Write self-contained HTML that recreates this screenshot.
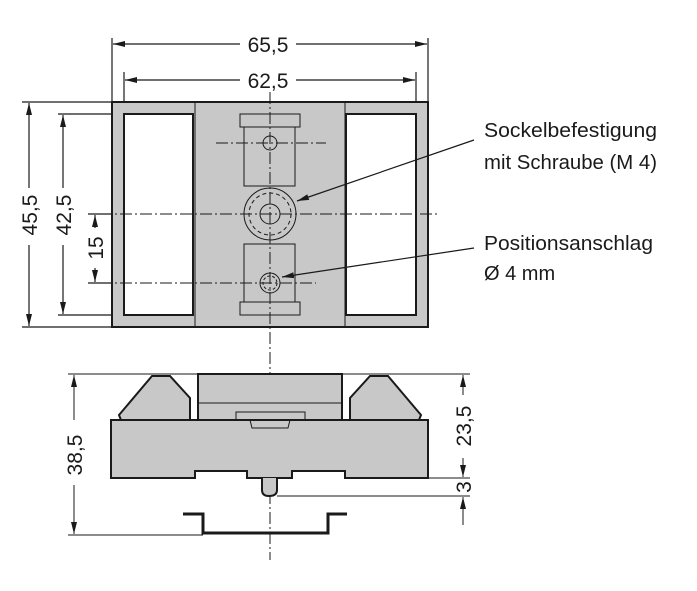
<!DOCTYPE html>
<html><head><meta charset="utf-8"><style>
html,body{margin:0;padding:0;background:#fff;}
svg{display:block;}
text{font-family:"Liberation Sans",sans-serif;fill:#1a1a1a;}
</style></head><body>
<svg width="697" height="591" viewBox="0 0 697 591" xmlns="http://www.w3.org/2000/svg">
<defs>
<marker id="a" viewBox="0 0 12 6" refX="12" refY="3" markerWidth="12" markerHeight="6" orient="auto-start-reverse" markerUnits="userSpaceOnUse"><path d="M0,0 L12,3 L0,6 z" fill="#1a1a1a"/></marker>
</defs>
<g stroke="#1a1a1a" fill="none" stroke-width="1.2">
<line x1="112" y1="38" x2="112" y2="102"/><line x1="428" y1="38" x2="428" y2="102"/>
<line x1="124" y1="72" x2="124" y2="114"/><line x1="416" y1="72" x2="416" y2="114"/>
<line x1="113" y1="44" x2="240" y2="44" marker-start="url(#a)"/><line x1="296" y1="44" x2="427" y2="44" marker-end="url(#a)"/>
<line x1="125" y1="80" x2="240" y2="80" marker-start="url(#a)"/><line x1="296" y1="80" x2="415" y2="80" marker-end="url(#a)"/>
<line x1="22" y1="102" x2="112" y2="102"/><line x1="22" y1="327" x2="112" y2="327"/>
<line x1="58" y1="114" x2="124" y2="114"/><line x1="58" y1="315" x2="124" y2="315"/>
<line x1="88" y1="214" x2="112" y2="214"/><line x1="88" y1="283" x2="112" y2="283"/>
<line x1="29" y1="103" x2="29" y2="188" marker-start="url(#a)"/><line x1="29" y1="245" x2="29" y2="326" marker-end="url(#a)"/>
<line x1="63" y1="115" x2="63" y2="188" marker-start="url(#a)"/><line x1="63" y1="245" x2="63" y2="314" marker-end="url(#a)"/>
<line x1="95" y1="215" x2="95" y2="228" marker-start="url(#a)"/><line x1="95" y1="268" x2="95" y2="282" marker-end="url(#a)"/>
</g>
<rect x="112" y="102" width="316" height="225" fill="#c8c8c8" stroke="#1a1a1a" stroke-width="2"/>
<g stroke="#1a1a1a" stroke-width="1" fill="none">
<line x1="195" y1="102" x2="195" y2="327"/><line x1="345" y1="102" x2="345" y2="327"/>
</g>
<rect x="124" y="114" width="69" height="201" fill="#fff" stroke="#1a1a1a" stroke-width="2"/>
<rect x="346" y="114" width="70" height="201" fill="#fff" stroke="#1a1a1a" stroke-width="2"/>
<g stroke="#1a1a1a" stroke-width="1" fill="none">
<rect x="240" y="114" width="60" height="13"/><rect x="244" y="127" width="51" height="59"/>
<rect x="244" y="244" width="51" height="58"/><rect x="240" y="302" width="60" height="13"/>
<circle cx="270" cy="143" r="7"/>
<circle cx="270" cy="214" r="26"/><circle cx="270" cy="214" r="21" stroke-dasharray="4,3"/><circle cx="270" cy="214" r="10"/>
<circle cx="270" cy="283" r="10"/><circle cx="270" cy="283" r="7" stroke-dasharray="3,2"/>
<g stroke-dasharray="12,3,2,3">
<line x1="270" y1="92" x2="270" y2="560"/>
<line x1="100" y1="214" x2="440" y2="214"/>
<line x1="100" y1="283" x2="316" y2="283"/>
<line x1="216" y1="143" x2="326" y2="143"/>
</g>
<line x1="474" y1="140" x2="297" y2="201" marker-end="url(#a)" stroke-width="1.2"/>
<line x1="474" y1="248" x2="282" y2="277" marker-end="url(#a)" stroke-width="1.2"/>
</g>
<g stroke="#1a1a1a" stroke-width="2" fill="#c8c8c8">
<path d="M198,374 H342 V420 H198 Z"/>
<path d="M119,415 L152,376 H170 L190,398 V420 H121 Z"/>
<path d="M421,415 L388,376 H370 L350,398 V420 H419 Z"/>
<path d="M111,420 H428 V478 H345 V471 H292 V478 H247 V471 H195 V478 H111 Z"/>
<path d="M262,478 V490 Q262,496 269,496 Q277,496 277,490 V478" />
<path d="M183,514 H203 V533 H328 V514 H347" fill="none" stroke-width="3"/>
</g>
<g stroke="#1a1a1a" stroke-width="1" fill="none">
<line x1="198" y1="403" x2="342" y2="403"/>
<path d="M236,420 V412 H305 V420"/><path d="M250,420 L252,428 H288 L290,420"/>
<line x1="68" y1="374" x2="470" y2="374"/>
<line x1="68" y1="535" x2="203" y2="535"/>
<line x1="428" y1="478" x2="470" y2="478"/>
<line x1="277" y1="496" x2="470" y2="496"/>
<line x1="74" y1="375" x2="74" y2="420" marker-start="url(#a)"/><line x1="74" y1="485" x2="74" y2="534" marker-end="url(#a)"/>
<line x1="463" y1="375" x2="463" y2="395" marker-start="url(#a)"/><line x1="463" y1="458" x2="463" y2="477" marker-end="url(#a)"/>
<line x1="463" y1="525" x2="463" y2="497" marker-end="url(#a)"/>
</g>
<g font-size="21">
<text x="268" y="52" text-anchor="middle">65,5</text>
<text x="268" y="88" text-anchor="middle">62,5</text>
<text transform="translate(37,215) rotate(-90)" text-anchor="middle">45,5</text>
<text transform="translate(71,215) rotate(-90)" text-anchor="middle">42,5</text>
<text transform="translate(103,248) rotate(-90)" text-anchor="middle">15</text>
<text transform="translate(82,455) rotate(-90)" text-anchor="middle">38,5</text>
<text transform="translate(471,426) rotate(-90)" text-anchor="middle">23,5</text>
<text transform="translate(471,487) rotate(-90)" text-anchor="middle">3</text>
</g>
<g font-size="20">
<text x="484" y="137" textLength="173" lengthAdjust="spacingAndGlyphs">Sockelbefestigung</text>
<text x="484" y="169" textLength="173" lengthAdjust="spacingAndGlyphs">mit Schraube (M 4)</text>
<text x="484" y="250" textLength="169" lengthAdjust="spacingAndGlyphs">Positionsanschlag</text>
<text x="484" y="280">Ø 4 mm</text>
</g>
</svg>
</body></html>
